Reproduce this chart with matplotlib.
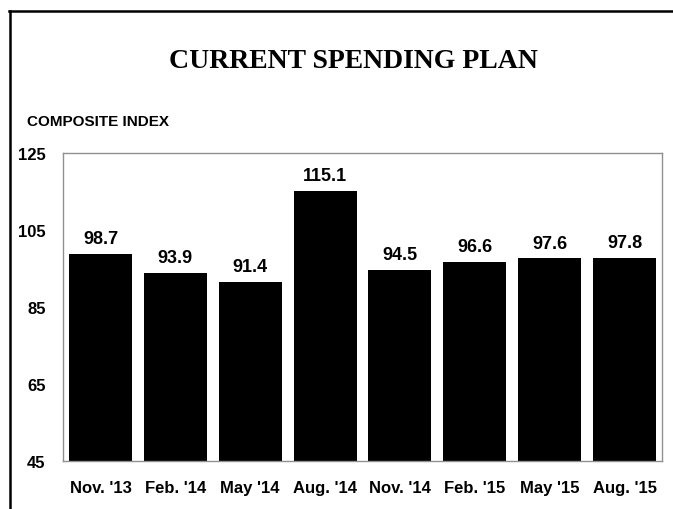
import matplotlib
matplotlib.use("Agg")
import matplotlib.pyplot as plt
from matplotlib.lines import Line2D

categories = ["Nov. '13", "Feb. '14", "May '14", "Aug. '14", "Nov. '14", "Feb. '15", "May '15", "Aug. '15"]
values = [98.7, 93.9, 91.4, 115.1, 94.5, 96.6, 97.6, 97.8]
yticks = [45, 65, 85, 105, 125]

sans = ['Liberation Sans', 'DejaVu Sans']
serif = ['Liberation Serif', 'DejaVu Serif']

W, H = 673, 510
fig = plt.figure(figsize=(W / 100, H / 100), dpi=100)
fig.patch.set_facecolor('white')

# axes placement in pixels
left, right, top, bottom = 63, 662, 154, 462
ax = fig.add_axes([left / W, 1 - bottom / H, (right - left) / W, (bottom - top) / H])

x = range(len(categories))
ax.bar(x, [v - 45 for v in values], bottom=45, width=0.84, color='black')
ax.set_xlim(-0.5, len(categories) - 0.5)
ax.set_ylim(45, 125)
ax.set_yticks(yticks)
ax.set_yticklabels([str(t) for t in yticks], family=sans, fontweight='bold', fontsize=12)
ax.set_xticks(list(x))
ax.set_xticklabels(categories, family=sans, fontweight='bold', fontsize=12)
ax.tick_params(axis='both', length=0)
ax.tick_params(axis='y', pad=12.5)
ax.tick_params(axis='x', pad=14)
for s in ax.spines.values():
    s.set_color('#909090')
    s.set_linewidth(1.0)

for i, v in enumerate(values):
    ax.annotate(f"{v:.1f}", xy=(i, v), xytext=(0, 5), textcoords='offset points',
                ha='center', va='bottom', family=sans, fontweight='bold', fontsize=13)

fig.text(353 / W, 1 - 62 / H, "CURRENT SPENDING PLAN", ha='center', va='center',
         family=serif, fontweight='bold', fontsize=20)
fig.text(27 / W, 1 - 122 / H, "COMPOSITE INDEX", ha='left', va='center',
         family=sans, fontweight='bold', fontsize=11)

# outer frame lines (top and left)
fig.add_artist(Line2D([9 / W, 1], [1 - 11.5 / H, 1 - 11.5 / H], color='black', linewidth=1.8,
                      transform=fig.transFigure))
fig.add_artist(Line2D([9.5 / W, 9.5 / W], [0, 1 - 11.5 / H], color='black', linewidth=1.8,
                      transform=fig.transFigure))

fig.savefig("out.png", dpi=100)
